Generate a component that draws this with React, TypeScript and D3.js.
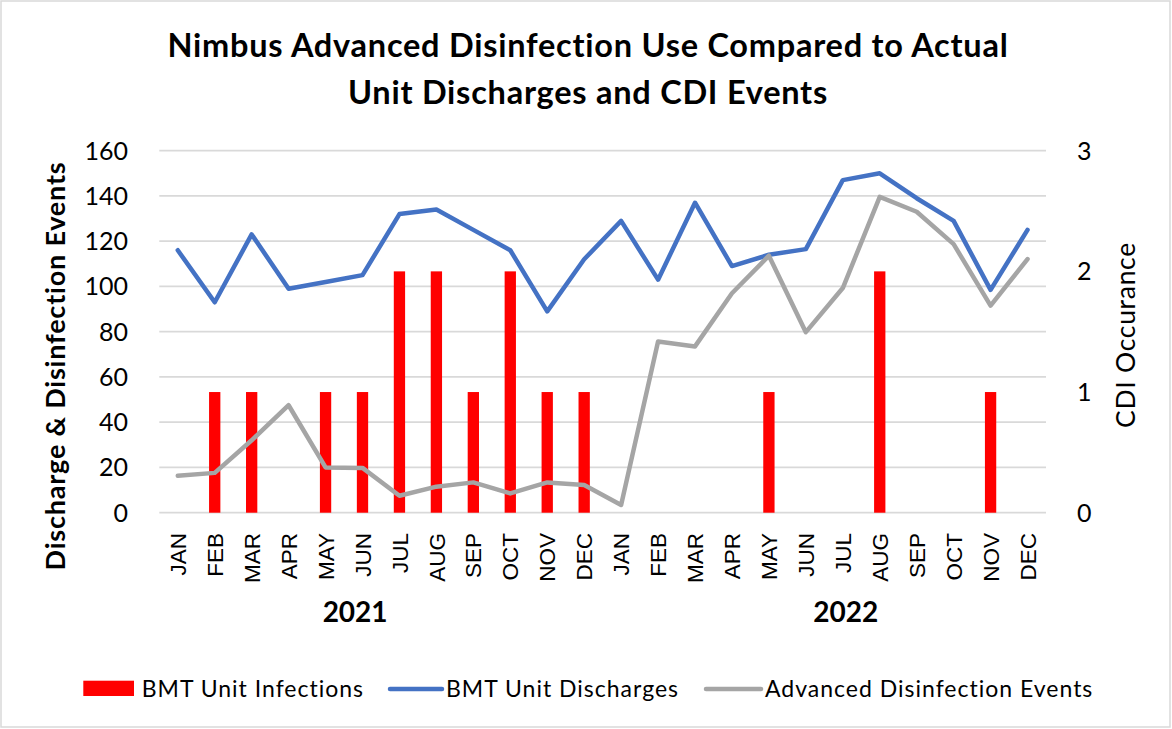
import React from "react";
import * as d3 from "d3";

const months = ["JAN","FEB","MAR","APR","MAY","JUN","JUL","AUG","SEP","OCT","NOV","DEC","JAN","FEB","MAR","APR","MAY","JUN","JUL","AUG","SEP","OCT","NOV","DEC"];
const years = ["2021", "2022"];
const infections = [0,1,1,0,1,1,2,2,1,2,1,1, 0,0,0,0,1,0,0,2,0,0,1,0];
const discharges = [116,93,123,99,102,105,132,134,125,116,89,112, 129,103,137,109,114,116.5,147,150,139,129,98.5,125];
const disinfection = [16.3,17.6,32,47.5,20,19.8,7.5,11.5,13.4,8.5,13.4,12.2, 3.4,75.7,73.5,97,113.6,79.8,99.3,139.6,133,118.7,91.5,112.1];
const leftTicks = [0,20,40,60,80,100,120,140,160];
const rightTicks = [0,1,2,3];
const titleLines = ["Nimbus Advanced Disinfection Use Compared to Actual", "Unit Discharges and CDI Events"];
const legendLabels = ["BMT Unit Infections", "BMT Unit Discharges", "Advanced Disinfection Events"];

const W = 1172, H = 729;
const PL = 159.3, PR = 1046, PT = 150.7, PB = 512.7;
const yearPos = [5.3, 18.58];
const RED = "#FF0000", BLUE = "#4472C4", GRAY = "#A5A5A5", GRID = "#D9D9D9";
const CAL = "Lato, 'Open Sans', sans-serif";
const ARIAL = "'Liberation Sans', Arial, sans-serif";

export default function App() {
  const idx = months.map((_, i) => i);
  const x = d3.scaleBand<number>().domain(idx).range([PL, PR]).paddingInner(0).paddingOuter(0);
  const bw = x.bandwidth();
  const cx = (i: number) => (x(i) as number) + bw / 2;
  const xPos = d3.scaleLinear().domain([0, months.length]).range([PL, PR]);
  const yL = d3.scaleLinear().domain([0, 160]).range([PB, PT]);
  const yR = d3.scaleLinear().domain([0, 3]).range([PB, PT]);
  const barW = bw * 0.306;

  const line = (vals: number[]) =>
    d3.line<number>().x((_, i) => cx(i)).y((v) => yL(v))(vals) as string;

  return (
    <svg width={W} height={H} style={{ position: "absolute", left: 0, top: 0, background: "#fff" }}>
      <rect x={1} y={1} width={W - 3} height={H - 3} fill="#fff" stroke={GRID} strokeWidth={1.5} />
      {titleLines.map((t, i) => (
        <text key={t} x={588} y={57 + i * 47} textAnchor="middle" fontFamily={CAL} fontWeight="bold" fontSize={32.5} letterSpacing={0.75} fill="#000">{t}</text>
      ))}
      {leftTicks.map((t) => (
        <line key={"g" + t} x1={PL} x2={PR} y1={yL(t)} y2={yL(t)} stroke={GRID} strokeWidth={1.8} />
      ))}
      {leftTicks.map((t) => (
        <text key={"l" + t} x={128} y={yL(t)} dy="0.36em" textAnchor="end" fontFamily={CAL} fontSize={25} fill="#000">{t}</text>
      ))}
      {rightTicks.map((t) => (
        <text key={"r" + t} x={1077} y={yR(t)} dy="0.36em" textAnchor="start" fontFamily={CAL} fontSize={25} fill="#000">{t}</text>
      ))}
      {infections.map((v, i) => v > 0 ? (
        <rect key={"b" + i} x={cx(i) - barW / 2} y={yR(v)} width={barW} height={yR(0) - yR(v)} fill={RED} />
      ) : null)}
      <path d={line(discharges)} fill="none" stroke={BLUE} strokeWidth={4.5} strokeLinejoin="round" strokeLinecap="round" />
      <path d={line(disinfection)} fill="none" stroke={GRAY} strokeWidth={4.5} strokeLinejoin="round" strokeLinecap="round" />
      {months.map((m, i) => (
        <text key={"m" + i} transform={`translate(${cx(i)},533) rotate(-90)`} dy="0.36em" textAnchor="end" fontFamily={ARIAL} fontSize={22.5} fill="#000">{m}</text>
      ))}
      {years.map((yv, i) => (
        <text key={yv} x={xPos(yearPos[i])} y={612} dy="0.36em" textAnchor="middle" fontFamily={CAL} fontWeight="bold" fontSize={28} fill="#000">{yv}</text>
      ))}
      <text transform={`translate(55,366) rotate(-90)`} dy="0.36em" textAnchor="middle" fontFamily={CAL} fontWeight="bold" fontSize={27} letterSpacing={0.8} fill="#000">Discharge &amp; Disinfection Events</text>
      <text transform={`translate(1125,335) rotate(-90)`} dy="0.36em" textAnchor="middle" fontFamily={CAL} fontSize={26.5} letterSpacing={0.7} fill="#000">CDI Occurance</text>
      <rect x={83.3} y={680.7} width={50.7} height={15.3} fill={RED} />
      <text x={141.7} y={696.7} fontFamily={CAL} fontSize={23} letterSpacing={1} fill="#000">{legendLabels[0]}</text>
      <line x1={390} x2={442} y1={689} y2={689} stroke={BLUE} strokeWidth={4.5} strokeLinecap="round" />
      <text x={446} y={696.7} fontFamily={CAL} fontSize={23} letterSpacing={1} fill="#000">{legendLabels[1]}</text>
      <line x1={706} x2={761} y1={689} y2={689} stroke={GRAY} strokeWidth={4.5} strokeLinecap="round" />
      <text x={765} y={696.7} fontFamily={CAL} fontSize={23} letterSpacing={1} fill="#000">{legendLabels[2]}</text>
    </svg>
  );
}
